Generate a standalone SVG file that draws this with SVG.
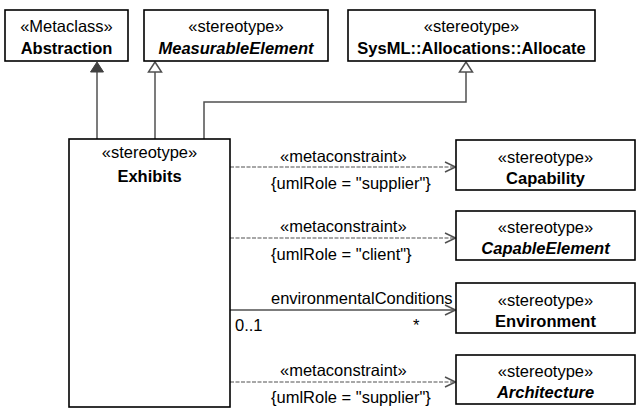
<svg xmlns="http://www.w3.org/2000/svg" width="636" height="408" viewBox="0 0 636 408">
<style>
.box{fill:#fff;stroke:#000;stroke-width:1.6}
text{font-family:"Liberation Sans",Arial,sans-serif;font-size:16.5px;fill:#000}
.c{text-anchor:middle}
.b{font-weight:bold}
.i{font-style:italic}
.ln{fill:none;stroke:#505050;stroke-width:1.5}
.dash{fill:none;stroke:#8a8a8a;stroke-width:1.3;stroke-dasharray:4 1.5}
.oh{fill:none;stroke:#505050;stroke-width:1.5}
</style>
<rect width="636" height="408" fill="#fff"/>
<g id="connectors">
  <line class="ln" x1="97" y1="139" x2="97" y2="72"/>
  <polygon points="97,62 90.5,72 103.5,72" fill="#404040" stroke="#404040" stroke-width="1"/>
  <line class="ln" x1="155" y1="139" x2="155" y2="72"/>
  <polygon points="155,62 148.5,72 161.5,72" fill="#fff" stroke="#505050" stroke-width="1.5"/>
  <polyline class="ln" points="204,139 204,102 466,102 466,72"/>
  <polygon points="466,62 459.5,72 472.5,72" fill="#fff" stroke="#505050" stroke-width="1.5"/>
  <line class="dash" x1="230" y1="167" x2="455" y2="167"/>
  <polyline class="oh" points="445,162 455.5,167 445,172"/>
  <text x="280" y="162">«metaconstraint»</text>
  <text x="271" y="189">{umlRole = "supplier"}</text>
  <line class="dash" x1="230" y1="238" x2="455" y2="238"/>
  <polyline class="oh" points="445,233 455.5,238 445,243"/>
  <text x="280" y="232">«metaconstraint»</text>
  <text x="271" y="260">{umlRole = "client"}</text>
  <line class="ln" x1="230" y1="310" x2="455" y2="310"/>
  <polyline class="oh" points="445,305 455.5,310 445,315"/>
  <text x="271" y="304">environmentalConditions</text>
  <text x="235" y="331">0..1</text>
  <text x="413" y="331">*</text>
  <line class="dash" x1="230" y1="382" x2="455" y2="382"/>
  <polyline class="oh" points="445,377 455.5,382 445,387"/>
  <text x="280" y="376">«metaconstraint»</text>
  <text x="271" y="403">{umlRole = "supplier"}</text>
</g>
<g id="abstraction">
  <rect class="box" x="5" y="10" width="123" height="51"/>
  <text class="c" x="66.5" y="32">«Metaclass»</text>
  <text class="c b" x="66.5" y="54">Abstraction</text>
</g>
<g id="measurableElement">
  <rect class="box" x="144" y="10" width="184" height="51"/>
  <text class="c" x="236" y="32">«stereotype»</text>
  <text class="c b i" x="236" y="54">MeasurableElement</text>
</g>
<g id="allocate">
  <rect class="box" x="348" y="10" width="247" height="51"/>
  <text class="c" x="471.5" y="32">«stereotype»</text>
  <text class="c b" x="471.5" y="54">SysML::Allocations::Allocate</text>
</g>
<g id="exhibits">
  <rect class="box" x="69" y="139" width="161" height="268"/>
  <text class="c" x="149.5" y="158">«stereotype»</text>
  <text class="c b" x="149.5" y="182">Exhibits</text>
</g>
<g id="capability">
  <rect class="box" x="456" y="140" width="179" height="50"/>
  <text class="c" x="545.5" y="163">«stereotype»</text>
  <text class="c b" x="545.5" y="184">Capability</text>
</g>
<g id="capableElement">
  <rect class="box" x="456" y="211" width="179" height="49"/>
  <text class="c" x="545.5" y="233">«stereotype»</text>
  <text class="c b i" x="545.5" y="254">CapableElement</text>
</g>
<g id="environment">
  <rect class="box" x="456" y="283" width="179" height="50"/>
  <text class="c" x="545.5" y="306">«stereotype»</text>
  <text class="c b" x="545.5" y="327">Environment</text>
</g>
<g id="architecture">
  <rect class="box" x="456" y="355" width="179" height="49"/>
  <text class="c" x="545.5" y="377">«stereotype»</text>
  <text class="c b i" x="545.5" y="398">Architecture</text>
</g>
</svg>
